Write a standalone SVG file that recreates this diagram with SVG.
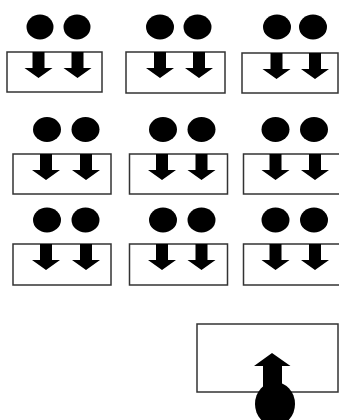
<svg xmlns="http://www.w3.org/2000/svg" width="339" height="420" viewBox="0 0 339 420">
<style>
.box{fill:#fff;stroke:#333;stroke-width:1.5}
.dot{fill:#000}
.arr{fill:#000}
</style>
<defs>
<path id="down" d="M-6,0 H6 V16 H14 L0,26 L-14,16 H-6 Z"/>
</defs>
<rect width="339" height="420" fill="#fff"/>
<g id="node-r1c1">
<rect class="box" x="7" y="52" width="95" height="40"/>
<ellipse class="dot" cx="40" cy="27" rx="13.5" ry="12.5"/>
<ellipse class="dot" cx="77" cy="27" rx="13.5" ry="12.5"/>
</g>
<g id="node-r1c2">
<rect class="box" x="126" y="52" width="99" height="41"/>
<ellipse class="dot" cx="160" cy="27" rx="14" ry="12.5"/>
<ellipse class="dot" cx="197.5" cy="27" rx="14" ry="12.5"/>
</g>
<g id="node-r1c3">
<rect class="box" x="242" y="53" width="96" height="40"/>
<ellipse class="dot" cx="277" cy="27" rx="14" ry="12.5"/>
<ellipse class="dot" cx="313" cy="27" rx="14" ry="12.5"/>
</g>
<g id="node-r2c1">
<rect class="box" x="13" y="154" width="98" height="40"/>
<ellipse class="dot" cx="47" cy="129.5" rx="14" ry="12.5"/>
<ellipse class="dot" cx="85.5" cy="129.5" rx="14" ry="12.5"/>
</g>
<g id="node-r2c2">
<rect class="box" x="129.5" y="154" width="98" height="40"/>
<ellipse class="dot" cx="163" cy="129.5" rx="14" ry="12.5"/>
<ellipse class="dot" cx="201.5" cy="129.5" rx="14" ry="12.5"/>
</g>
<g id="node-r2c3">
<rect class="box" x="243.5" y="154" width="98" height="40"/>
<ellipse class="dot" cx="275.5" cy="129.5" rx="14" ry="12.5"/>
<ellipse class="dot" cx="314" cy="129.5" rx="14" ry="12.5"/>
</g>
<g id="node-r3c1">
<rect class="box" x="13" y="244" width="98" height="41"/>
<ellipse class="dot" cx="47" cy="220" rx="14" ry="12.5"/>
<ellipse class="dot" cx="85.5" cy="220" rx="14" ry="12.5"/>
</g>
<g id="node-r3c2">
<rect class="box" x="129.5" y="244" width="98" height="41"/>
<ellipse class="dot" cx="163" cy="220" rx="14" ry="12.5"/>
<ellipse class="dot" cx="201.5" cy="220" rx="14" ry="12.5"/>
</g>
<g id="node-r3c3">
<rect class="box" x="243.5" y="244" width="98" height="41"/>
<ellipse class="dot" cx="275.5" cy="220" rx="14" ry="12.5"/>
<ellipse class="dot" cx="314" cy="220" rx="14" ry="12.5"/>
</g>
<g id="node-bottom">
<rect class="box" x="197" y="324" width="141" height="68"/>
<ellipse class="dot" cx="275" cy="404" rx="20" ry="22"/>
</g>
<g id="connectors">
<use href="#down" class="arr" x="38.5" y="52"/>
<use href="#down" class="arr" x="77.5" y="52"/>
<use href="#down" class="arr" x="160" y="52"/>
<use href="#down" class="arr" x="199" y="52"/>
<use href="#down" class="arr" x="276.5" y="53"/>
<use href="#down" class="arr" x="315" y="53"/>
<use href="#down" class="arr" x="46" y="154"/>
<use href="#down" class="arr" x="86" y="154"/>
<use href="#down" class="arr" x="162" y="154"/>
<use href="#down" class="arr" x="201.5" y="154"/>
<use href="#down" class="arr" x="275.5" y="154"/>
<use href="#down" class="arr" x="315" y="154"/>
<use href="#down" class="arr" x="46" y="244"/>
<use href="#down" class="arr" x="86" y="244"/>
<use href="#down" class="arr" x="162" y="244"/>
<use href="#down" class="arr" x="201.5" y="244"/>
<use href="#down" class="arr" x="275.5" y="244"/>
<use href="#down" class="arr" x="315" y="244"/>
<path class="arr" d="M263,400 V366 H254 L272,353 L290.5,366 H282 V400 Z"/>
</g>
</svg>
